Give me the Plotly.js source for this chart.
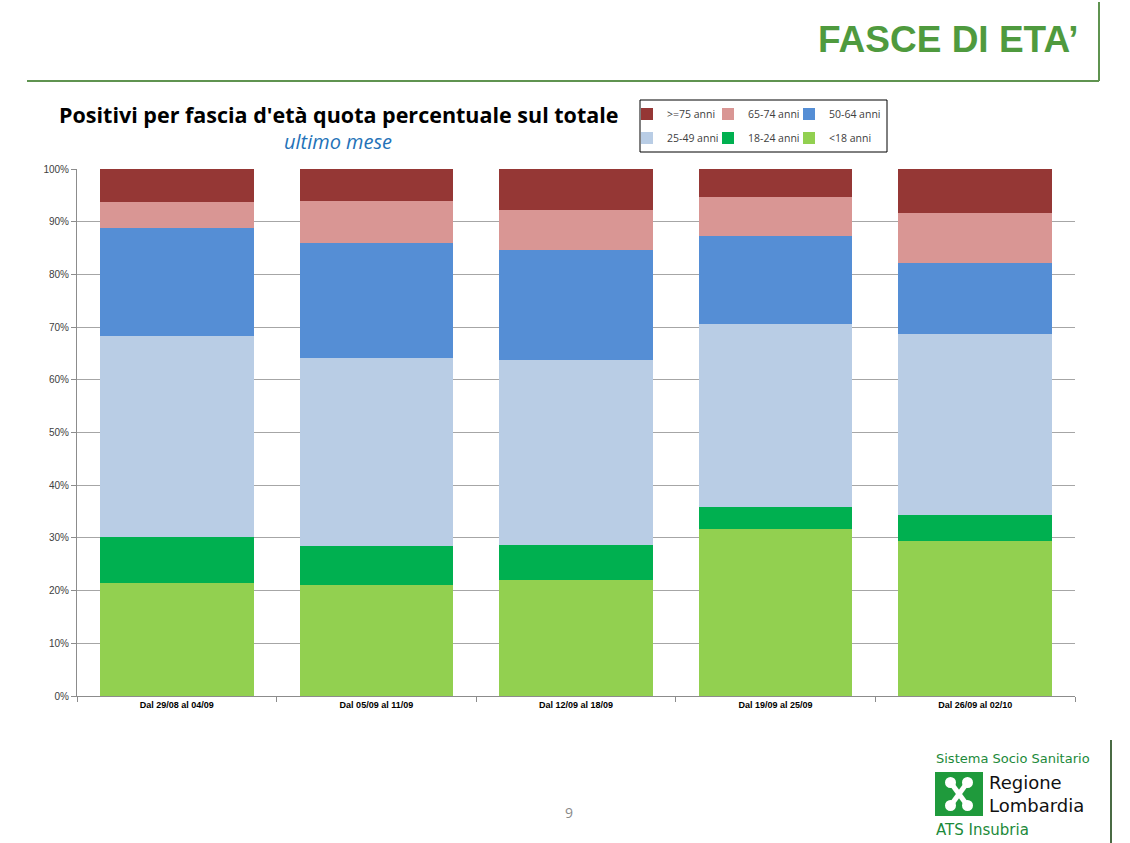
<!DOCTYPE html>
<html>
<head>
<meta charset="utf-8">
<script src="https://cdn.plot.ly/plotly-3.0.1.min.js"></script>
<style>
  html, body { margin: 0; padding: 0; background: #fff; overflow: hidden; }
  #grafico { width: 1130px; height: 843px; }
</style>
</head>
<body>
<div id="grafico"></div>
<script>
// settimane (categorie asse x)
const settimane = ['Dal 29/08 al 04/09', 'Dal 05/09 al 11/09', 'Dal 12/09 al 18/09', 'Dal 19/09 al 25/09', 'Dal 26/09 al 02/10'];

// quota % per fascia d'età (dal basso verso l'alto)
const meno18 = [21.4, 21.1, 22.0, 31.6, 29.4];
const da18a24 = [8.8, 7.4, 6.7, 4.3, 4.9];
const da25a49 = [38.2, 35.7, 35.1, 34.7, 34.4];
const da50a64 = [20.5, 21.8, 20.9, 16.6, 13.4];
const da65a74 = [4.9, 8.0, 7.5, 7.4, 9.5];
const oltre75 = [6.2, 6.0, 7.8, 5.4, 8.4];

const fasce = [
  { nome: '<18 anni', valori: meno18, colore: '#92d050' },
  { nome: '18-24 anni', valori: da18a24, colore: '#00b050' },
  { nome: '25-49 anni', valori: da25a49, colore: '#b9cde5' },
  { nome: '50-64 anni', valori: da50a64, colore: '#558ed5' },
  { nome: '65-74 anni', valori: da65a74, colore: '#d99694' },
  { nome: '>=75 anni', valori: oltre75, colore: '#953735' },
];

const tickY = [0, 10, 20, 30, 40, 50, 60, 70, 80, 90, 100];

// area del grafico in pixel: x 77-1075, y 169-696
const L = 77, R = 1075, T = 169, B = 696;
const px = (x) => (x - L) / (R - L);
const py = (y) => (B - y) / (B - T);

// una legenda per voce, per avere la griglia 3x2 del riquadro originale
// (posizione in pixel del simbolo di ciascuna voce, nell'ordine di fasce)
const posLegenda = [[810, 138], [729, 138], [648, 138], [810, 114], [729, 114], [648, 114]];
const nomeLegenda = (i) => (i === 0 ? 'legend' : 'legend' + (i + 1));

const tracce = fasce.map((f, i) => ({
  type: 'bar',
  name: f.nome,
  legend: nomeLegenda(i),
  x: settimane,
  y: f.valori,
  marker: { color: f.colore, line: { width: 0 } },
  hovertemplate: '%{x}<br>' + f.nome + ': %{y:.1f}%<extra></extra>',
}));

const verde = '#4f9a3e';

const testo = (t, x, y, font, extra) => Object.assign({
  text: t, xref: 'paper', yref: 'paper', x: px(x), y: py(y),
  xanchor: 'left', yanchor: 'middle', showarrow: false, font,
}, extra || {});

const layout = {
  width: 1130,
  height: 843,
  margin: { l: L, r: 1130 - R, t: T, b: 843 - B, pad: 0, autoexpand: false },
  paper_bgcolor: '#ffffff',
  plot_bgcolor: '#ffffff',
  barmode: 'stack',
  bargap: 0.23,
  font: { family: 'Liberation Sans, Arial, sans-serif', color: '#404040' },
  xaxis: {
    type: 'category',
    tickson: 'boundaries',
    ticks: 'outside',
    ticklen: 5,
    tickcolor: '#8c8c8c',
    showline: true,
    linecolor: '#8c8c8c',
    linewidth: 1,
    tickfont: { size: 9, color: '#000', weight: 'bold' },
    showgrid: false,
  },
  yaxis: {
    range: [0, 100],
    tickvals: tickY,
    ticktext: tickY.map((v) => v + '%'),
    ticks: 'outside',
    ticklen: 5,
    tickcolor: '#8c8c8c',
    showline: true,
    linecolor: '#8c8c8c',
    gridcolor: '#a6a6a6',
    gridwidth: 1,
    tickfont: { size: 10, color: '#404040' },
    zeroline: false,
  },
  showlegend: true,
  annotations: [
    testo('FASCE DI ETA’', 1080, 40,
      { family: 'Liberation Sans, Arial, sans-serif', size: 37, color: verde, weight: 'bold' }, { xanchor: 'right' }),
    testo("Positivi per fascia d'età quota percentuale sul totale", 57, 114,
      { family: 'Open Sans, sans-serif', size: 21.5, color: '#000', weight: 'bold' }),
    testo('<i>ultimo mese</i>', 338, 142,
      { family: 'Open Sans, sans-serif', size: 20, color: '#2472b8' }, { xanchor: 'center' }),
    testo('9', 569, 812,
      { family: 'Open Sans, sans-serif', size: 14, color: '#8a8a8a' }, { xanchor: 'center' }),
    testo('Sistema Socio Sanitario', 934, 758,
      { family: 'DejaVu Sans, sans-serif', size: 13, color: '#1c8a3a' }),
    testo('Regione', 987, 782.5,
      { family: 'DejaVu Sans, sans-serif', size: 18, color: '#111' }),
    testo('Lombardia', 987, 805.5,
      { family: 'DejaVu Sans, sans-serif', size: 18, color: '#111' }),
    testo('ATS Insubria', 934, 830,
      { family: 'DejaVu Sans, sans-serif', size: 15, color: '#1c8a3a' }),
  ],
  shapes: [
    // riquadro della legenda
    { type: 'rect', xref: 'paper', yref: 'paper', x0: px(640), x1: px(887), y0: py(100), y1: py(152), line: { color: '#000', width: 1 } },
    // linee verdi dell'intestazione
    { type: 'line', xref: 'paper', yref: 'paper', x0: px(27), x1: px(1099), y0: py(81), y1: py(81), line: { color: '#5f9350', width: 2 } },
    { type: 'line', xref: 'paper', yref: 'paper', x0: px(1099), x1: px(1099), y0: py(2), y1: py(81), line: { color: '#5f9350', width: 2 } },
    // linea verticale in basso a destra
    { type: 'line', xref: 'paper', yref: 'paper', x0: px(1111), x1: px(1111), y0: py(740), y1: py(843), line: { color: '#4a6b44', width: 2 } },
    // logo Regione Lombardia
    { type: 'rect', xref: 'paper', yref: 'paper', x0: px(935), x1: px(983), y0: py(772), y1: py(816), fillcolor: '#1f9a3c', line: { width: 0 } },
    { type: 'circle', xref: 'paper', yref: 'paper', x0: px(945), x1: px(956), y0: py(777), y1: py(788), fillcolor: '#fff', line: { width: 0 } },
    { type: 'circle', xref: 'paper', yref: 'paper', x0: px(962), x1: px(973), y0: py(777), y1: py(788), fillcolor: '#fff', line: { width: 0 } },
    { type: 'circle', xref: 'paper', yref: 'paper', x0: px(945), x1: px(956), y0: py(800), y1: py(811), fillcolor: '#fff', line: { width: 0 } },
    { type: 'circle', xref: 'paper', yref: 'paper', x0: px(962), x1: px(973), y0: py(800), y1: py(811), fillcolor: '#fff', line: { width: 0 } },
    { type: 'line', xref: 'paper', yref: 'paper', x0: px(951), x1: px(967), y0: py(783), y1: py(805), line: { color: '#fff', width: 5 } },
    { type: 'line', xref: 'paper', yref: 'paper', x0: px(967), x1: px(951), y0: py(783), y1: py(805), line: { color: '#fff', width: 5 } },
  ],
};

posLegenda.forEach(([sx, sy], i) => {
  layout[nomeLegenda(i)] = {
    x: px(sx - 21), y: py(sy),
    xanchor: 'left', yanchor: 'middle',
    bgcolor: 'rgba(0,0,0,0)',
    borderwidth: 0,
    font: { size: 10.5, color: '#404040', family: 'Open Sans, sans-serif' },
  };
});

Plotly.newPlot('grafico', tracce, layout, { displayModeBar: false, staticPlot: true });
</script>
</body>
</html>
